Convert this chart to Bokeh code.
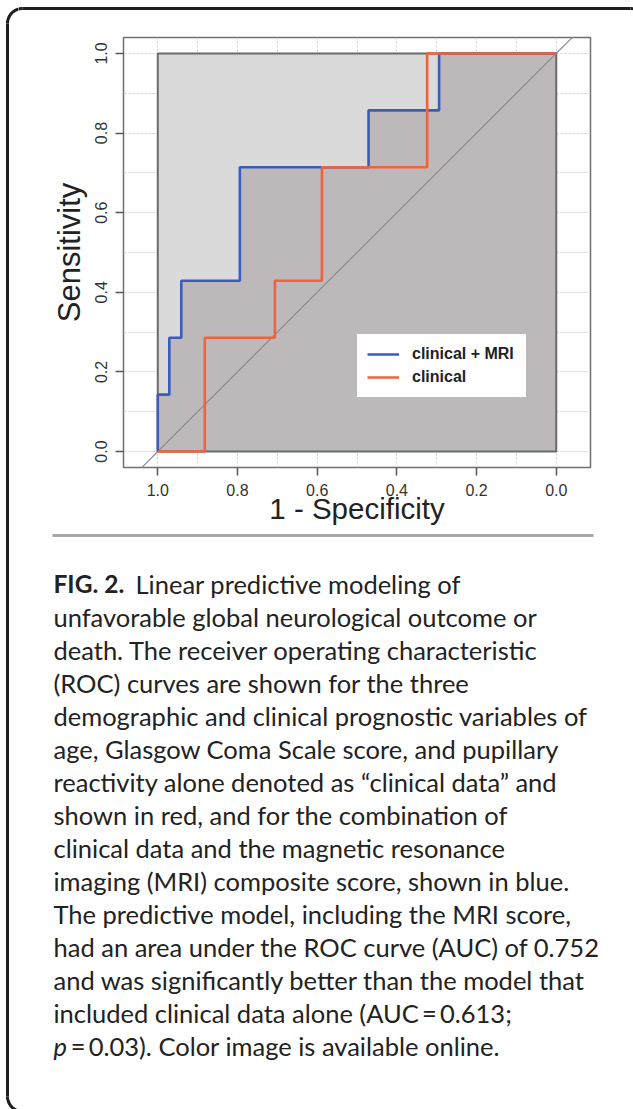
import numpy as np
from bokeh.plotting import figure
from bokeh.layouts import row, column
from bokeh.models import Range1d, FixedTicker, NumeralTickFormatter, Legend, LegendItem
from bokeh.core.properties import value
from bokeh.embed import file_html
from bokeh.resources import INLINE

# ---------------- data ----------------
axis_ticks = [0.0, 0.2, 0.4, 0.6, 0.8, 1.0]
grid_ticks = [0.0, 0.1, 0.2, 0.3, 0.4, 0.5, 0.6, 0.7, 0.8, 0.9, 1.0]
# x positions (axis values, reversed axis) where sensitivity rises, and the level reached
mri_x = [1.0, 0.971, 0.941, 0.794, 0.471, 0.294]
mri_y = [0.143, 0.286, 0.429, 0.714, 0.857, 1.0]
clin_x = [1.0, 0.882, 0.706, 0.588, 0.324]
clin_y = [0.0, 0.286, 0.429, 0.714, 1.0]
series_names = ["clinical + MRI", "clinical"]
series_colors = ["#3b5cb8", "#f0623a"]

caption_bold = "FIG. 2."
caption_first = "Linear predictive modeling of"
caption_lines = [
    "unfavorable global neurological outcome or",
    "death. The receiver operating characteristic",
    "(ROC) curves are shown for the three",
    "demographic and clinical prognostic variables of",
    "age, Glasgow Coma Scale score, and pupillary",
    "reactivity alone denoted as \u201cclinical data\u201d and",
    "shown in red, and for the combination of",
    "clinical data and the magnetic resonance",
    "imaging (MRI) composite score, shown in blue.",
    "The predictive model, including the MRI score,",
    "had an area under the ROC curve (AUC) of 0.752",
    "and was significantly better than the model that",
    "included clinical data alone (AUC\u2009=\u20090.613;",
]
caption_italic = "p"
caption_last = "\u2009=\u20090.03). Color image is available online."


def roc_path(xs, ys):
    px, py = [xs[0]], [0.0]
    for i, (x, y) in enumerate(zip(xs, ys)):
        px.append(x)
        py.append(y)
        nx = xs[i + 1] if i + 1 < len(xs) else 0.0
        px.append(nx)
        py.append(y)
    return px, py


LABEL_FONT = "Liberation Sans"
CAP_FONT = "Lato"
CAP_SIZE = "25.5px"
BORDER = "#1e1e1e"

# ---------------- ROC figure ----------------
roc = figure(width=615, height=510,
             x_range=Range1d(1.086, -0.0859), y_range=Range1d(-0.04, 1.04),
             output_backend="svg", toolbar_location=None, frame_align=False,
             min_border_left=105, min_border_right=43,
             min_border_top=17, min_border_bottom=63)
roc.background_fill_color = "white"
roc.border_fill_color = "white"
roc.outline_line_color = "#707070"
roc.outline_line_width = 1.5

for g, t in ((roc.xgrid, grid_ticks), (roc.ygrid, grid_ticks)):
    g.ticker = FixedTicker(ticks=t)
    g.grid_line_color = "#cccccc"
    g.grid_line_dash = "2 2"
    g.grid_line_width = 1

roc.xaxis.ticker = FixedTicker(ticks=axis_ticks)
roc.yaxis.ticker = FixedTicker(ticks=axis_ticks)
roc.xaxis.formatter = NumeralTickFormatter(format="0.0")
roc.yaxis.formatter = NumeralTickFormatter(format="0.0")
for ax in (roc.xaxis, roc.yaxis):
    ax.axis_line_color = None
    ax.major_tick_line_color = "#555555"
    ax.major_tick_line_width = 1.5
    ax.major_tick_out = 8
    ax.major_tick_in = 0
    ax.minor_tick_line_color = None
    ax.major_label_text_font = LABEL_FONT
    ax.major_label_text_font_size = "16px"
    ax.major_label_text_color = "#333333"
    ax.major_label_standoff = 8
    ax.axis_label_text_font = LABEL_FONT
    ax.axis_label_text_font_style = "normal"
    ax.axis_label_text_color = "#222222"
roc.yaxis.major_label_orientation = "vertical"
roc.xaxis.axis_label = "1 - Specificity"
roc.yaxis.axis_label = "Sensitivity"
roc.xaxis.axis_label_text_font_size = "29.5px"
roc.yaxis.axis_label_text_font_size = "31px"
roc.xaxis.axis_label_standoff = -7
roc.yaxis.axis_label_standoff = 6

# areas
roc.quad(left=0, right=1, bottom=0, top=1, fill_color="#dbdadb", line_color=None)
bx, by = roc_path(mri_x, mri_y)
roc.patch(x=bx + [0.0], y=by + [0.0], fill_color="#bdb9bb", line_color=None)
roc.quad(left=0, right=1, bottom=0, top=1, fill_color=None,
         line_color="#6a6a6a", line_width=2)
# chance diagonal
x0, x1 = roc.x_range.start, roc.x_range.end
roc.line(x=[x0, x1], y=[1 - x0, 1 - x1], line_color="#8d8d8d", line_width=1.2)

rx, ry = roc_path(clin_x, clin_y)
r_blue = roc.line(x=bx, y=by, line_color=series_colors[0], line_width=2.6)
r_red = roc.line(x=rx, y=ry, line_color=series_colors[1], line_width=2.6)

legend = Legend(items=[LegendItem(label=series_names[0], renderers=[r_blue]),
                       LegendItem(label=series_names[1], renderers=[r_red])],
                location=(234, 70))
legend.background_fill_color = "white"
legend.background_fill_alpha = 1.0
# a white border acts as the inner padding of the legend box
legend.border_line_color = "white"
legend.border_line_width = 10.5
legend.label_text_font = LABEL_FONT
legend.label_text_font_style = "bold"
legend.label_text_font_size = "16px"
legend.label_text_color = "#222222"
legend.glyph_width = 32
legend.glyph_height = 20
legend.label_height = 20
legend.label_width = 104
legend.padding = 0
legend.spacing = 3
legend.label_standoff = 13
legend.margin = 0
roc.add_layout(legend)


def deco_fig(w, h, xr, yr):
    f = figure(width=w, height=h, x_range=Range1d(*xr), y_range=Range1d(*yr),
               output_backend="svg", toolbar_location=None, frame_align=False,
               x_axis_location=None, y_axis_location=None,
               min_border=0, min_border_left=0, min_border_right=0,
               min_border_top=0, min_border_bottom=0)
    f.outline_line_color = None
    f.xgrid.visible = False
    f.ygrid.visible = False
    f.background_fill_color = "white"
    f.border_fill_color = "white"
    return f


# rounded card corner shapes (decoration)
R = 15.0
LX, TY = 7.0, 8.0
t = np.linspace(0, np.pi / 2, 20)
corner_x = list(LX + R - R * np.cos(t))
corner_y = list(TY + R - R * np.sin(t))
tr = np.linspace(np.pi / 2, np.pi / 2 - 0.45, 8)
tr_x = list(630.0 + R * np.cos(tr))
tr_y = list(TY + R - R * np.sin(tr))
bl = np.linspace(0, np.pi / 2, 20)
bl_x = list(LX + R - R * np.cos(bl))
bl_y = list(1111.0 - R + R * np.sin(bl))

# left strip
left = deco_fig(18, 1109, (0, 18), (1109, 0))
left.line(x=[LX, LX], y=[TY + R, 1111.0 - R], line_color=BORDER, line_width=3)
left.line(x=corner_x, y=corner_y, line_color=BORDER, line_width=3)
left.line(x=bl_x, y=bl_y, line_color=BORDER, line_width=3)

# top strip
top = deco_fig(615, 20, (18, 633), (20, 0))
top.line(x=[LX + R, 630.0], y=[TY, TY], line_color=BORDER, line_width=3)
top.line(x=corner_x, y=corner_y, line_color=BORDER, line_width=3)
top.line(x=tr_x, y=tr_y, line_color=BORDER, line_width=3)

# caption
cap = deco_fig(615, 579, (18, 633), (1109, 530))
cap.segment(x0=[52], y0=[535], x1=[593], y1=[535], line_color="#a8a8a8", line_width=3)
base0, lead = 583.0, 33.0
cap.text(x=[53], y=[base0], text=[caption_bold], text_font=value(CAP_FONT),
         text_font_style="bold", text_font_size="24.5px", text_color="#222222",
         text_baseline="alphabetic", text_align="left")
cap.text(x=[135], y=[base0], text=[caption_first], text_font=value(CAP_FONT),
         text_font_size=CAP_SIZE, text_color="#222222",
         text_baseline="alphabetic", text_align="left")
ys = [base0 + lead * (i + 1) for i in range(len(caption_lines))]
cap.text(x=[53] * len(caption_lines), y=ys, text=caption_lines, text_font=value(CAP_FONT),
         text_font_size=CAP_SIZE, text_color="#222222",
         text_baseline="alphabetic", text_align="left")
ylast = base0 + lead * (len(caption_lines) + 1)
cap.text(x=[53], y=[ylast], text=[caption_italic], text_font=value(CAP_FONT),
         text_font_style="italic", text_font_size=CAP_SIZE, text_color="#222222",
         text_baseline="alphabetic", text_align="left")
cap.text(x=[67], y=[ylast], text=[caption_last], text_font=value(CAP_FONT),
         text_font_size=CAP_SIZE, text_color="#222222",
         text_baseline="alphabetic", text_align="left")

layout = row(left, column(top, roc, cap, spacing=0), spacing=0)
open("out.html", "w").write(file_html(layout, INLINE))
